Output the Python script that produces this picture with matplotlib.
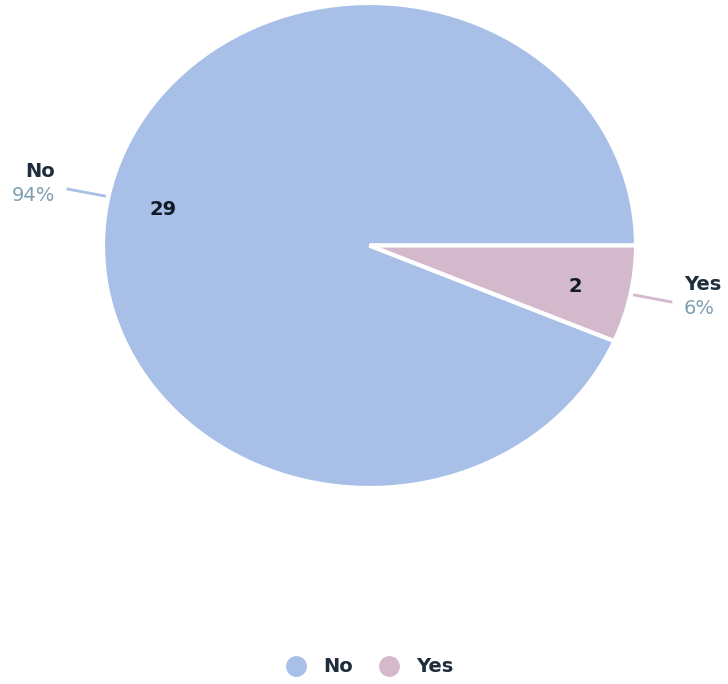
import matplotlib.pyplot as plt
from matplotlib.lines import Line2D
import numpy as np

categories = ["No", "Yes"]
counts = [29, 2]
colors = ["#a8c0e8", "#d4b8cc"]
name_color = "#1f2d3d"
pct_color = "#7f9fb3"

W, H = 728, 684
plt.rcParams['font.family'] = ['DejaVu Sans']

fig = plt.figure(figsize=(W / 100, H / 100), dpi=100)
fig.patch.set_facecolor('white')

# box holding the (slightly oval) pie, in pixels
left, right, top, bottom = 103, 636, 3, 488
ax = fig.add_axes([left / W, 1 - bottom / H, (right - left) / W, (bottom - top) / H])

total = sum(counts)
wedges, _ = ax.pie(counts, colors=colors, startangle=360 * counts[0] / total,
                   counterclock=False, radius=1,
                   wedgeprops=dict(edgecolor='white', linewidth=3))
ax.set_xlim(-1, 1)
ax.set_ylim(-1, 1)
ax.set_aspect('auto')
ax.axis('off')

for w, name, n in zip(wedges, categories, counts):
    mid = np.deg2rad((w.theta1 + w.theta2) / 2)
    c, s = np.cos(mid), np.sin(mid)
    # count inside the slice
    ax.text(0.79 * c, 0.79 * s - 0.01, str(n), ha='center', va='center',
            fontsize=14, fontweight='bold', color='#111a24')
    # leader line and outside label
    ax.plot([1.01 * c, 1.16 * c], [1.01 * s, 1.16 * s], color=w.get_facecolor(),
            lw=2, clip_on=False, solid_capstyle='butt')
    ha = 'left' if c > 0 else 'right'
    tx = 1.205 * c
    ty = 1.16 * s + 0.022
    ax.text(tx, ty + 0.01, name, ha=ha, va='bottom', fontsize=14,
            fontweight='bold', color=name_color, clip_on=False)
    ax.text(tx, ty - 0.01, f"{round(100 * n / total)}%", ha=ha, va='top',
            fontsize=14, color=pct_color, clip_on=False)

handles = [Line2D([], [], ls='', marker='o', markersize=14, markerfacecolor=col,
                  markeredgecolor=col) for col in colors]
leg = fig.legend(handles, categories, loc='center', bbox_to_anchor=(370 / W, 1 - 667 / H),
                 ncol=2, frameon=False, fontsize=14, handlelength=1.0,
                 handletextpad=0.9, columnspacing=1.35)
for t in leg.get_texts():
    t.set_fontweight('bold')
    t.set_color(name_color)

fig.savefig('out.png', dpi=100, facecolor='white')
